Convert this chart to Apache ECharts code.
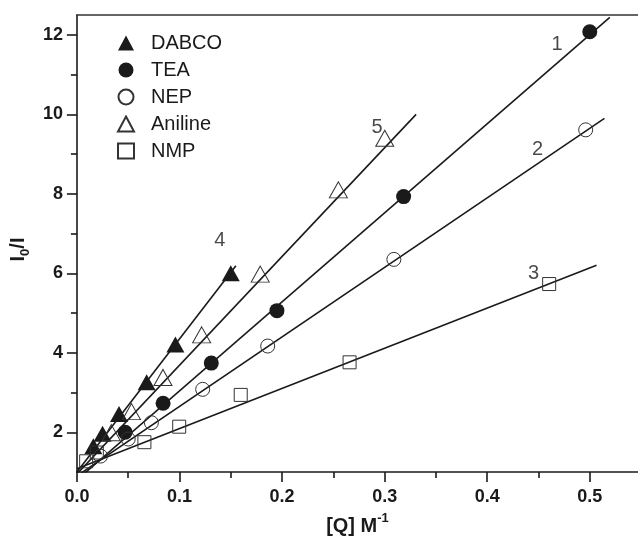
<!DOCTYPE html>
<html>
<head>
<meta charset="utf-8">
<script src="https://cdn.jsdelivr.net/npm/echarts@6/dist/echarts.min.js"></script>
<style>html,body{margin:0;padding:0;background:#fff}#c{width:638px;height:543px}</style>
</head>
<body>
<div id="c"></div>
<script>
// ---- data ----
const seriesNames = ['DABCO', 'TEA', 'NEP', 'Aniline', 'NMP'];
const dabcoX = [0.016, 0.025, 0.041, 0.068, 0.096, 0.150];
const dabcoY = [1.65, 1.96, 2.46, 3.26, 4.21, 6.00];
const teaX = [0.047, 0.084, 0.131, 0.195, 0.3185, 0.500];
const teaY = [2.00, 2.73, 3.74, 5.06, 7.93, 12.08];
const nepX = [0.023, 0.050, 0.0726, 0.1226, 0.186, 0.309, 0.496];
const nepY = [1.40, 1.83, 2.24, 3.08, 4.17, 6.35, 9.61];
const anilX = [0.0335, 0.0532, 0.0839, 0.1216, 0.1787, 0.2549, 0.3001];
const anilY = [1.99, 2.52, 3.38, 4.45, 5.98, 8.10, 9.40];
const nmpX = [0.009, 0.0194, 0.0658, 0.0997, 0.1597, 0.2658, 0.4604];
const nmpY = [1.27, 1.49, 1.75, 2.14, 2.94, 3.76, 5.73];
// fitted lines (start/end): 1 TEA, 2 NEP, 3 NMP, 4 DABCO, 5 Aniline
const fitStartX = [0, 0, 0, 0, 0];
const fitStartY = [0.80, 0.90, 1.08, 1.00, 0.95];
const fitEndX = [0.5195, 0.5143, 0.5066, 0.155, 0.3307];
const fitEndY = [12.44, 9.90, 6.20, 6.19, 10.00];
// line number labels
const numLabels = ['1', '2', '3', '4', '5'];
const numLabelX = [0.468, 0.449, 0.4453, 0.1394, 0.2927];
const numLabelY = [11.75, 9.12, 6.00, 6.83, 9.67];
// ticks
const xMajorTicks = [0, 0.1, 0.2, 0.3, 0.4, 0.5];
const xMinorTicks = [0.05, 0.15, 0.25, 0.35, 0.45];
const yMajorTicks = [2, 4, 6, 8, 10, 12];
const yMinorTicks = [3, 5, 7, 9, 11];
const xMin = 0, xMax = 0.547, yMin = 1, yMax = 12.5;

const FONT = '"Liberation Sans", Arial, sans-serif';
const INK = '#1a1a1a';

function pairs(xs, ys) { return xs.map((x, i) => [x, ys[i]]); }

const chart = echarts.init(document.getElementById('c'), null, {renderer: 'canvas'});

const markerDefs = [
  {name: 'DABCO', x: dabcoX, y: dabcoY, symbol: 'triangle', size: [18, 16], fill: INK, border: INK, bw: 0},
  {name: 'TEA', x: teaX, y: teaY, symbol: 'circle', size: 15, fill: INK, border: INK, bw: 0},
  {name: 'NEP', x: nepX, y: nepY, symbol: 'circle', size: 14, fill: 'rgba(0,0,0,0)', border: '#333', bw: 1},
  {name: 'Aniline', x: anilX, y: anilY, symbol: 'triangle', size: [18, 16], fill: 'rgba(0,0,0,0)', border: '#333', bw: 1},
  {name: 'NMP', x: nmpX, y: nmpY, symbol: 'rect', size: 13, fill: 'rgba(0,0,0,0)', border: '#333', bw: 1}
];

const series = [];
for (let i = 0; i < fitStartX.length; i++) {
  series.push({
    type: 'line', xAxisIndex: 0, yAxisIndex: 0, silent: true,
    data: [[fitStartX[i], fitStartY[i]], [fitEndX[i], fitEndY[i]]],
    showSymbol: false, symbol: 'none',
    lineStyle: {color: INK, width: 1.6}, z: 2, clip: true
  });
}
markerDefs.forEach(d => {
  series.push({
    name: d.name, type: 'scatter', xAxisIndex: 0, yAxisIndex: 0,
    data: pairs(d.x, d.y), symbol: d.symbol, symbolSize: d.size,
    itemStyle: {color: d.fill, borderColor: d.border, borderWidth: d.bw, opacity: 1},
    z: 3
  });
});
series.push({
  type: 'scatter', xAxisIndex: 0, yAxisIndex: 0, silent: true,
  data: numLabels.map((t, i) => ({value: [numLabelX[i], numLabelY[i]], name: t})),
  symbolSize: 0,
  label: {show: true, position: 'inside', formatter: p => p.name,
    fontFamily: FONT, fontSize: 20, color: INK},
  z: 4
});

const axisLineStyle = {color: INK, width: 1.6};

chart.setOption({
  animation: false,
  backgroundColor: '#fff',
  grid: {left: 73, top: 15, width: 565, height: 457, containLabel: false},
  legend: {
    data: seriesNames,
    orient: 'vertical', left: 112, top: 28,
    itemWidth: 16, itemHeight: 15, itemGap: 7, symbolKeepAspect: true,
    textStyle: {fontFamily: FONT, fontSize: 20, color: INK, lineHeight: 20, padding: [0, 0, 0, 12]},
    selectedMode: false
  },
  xAxis: [
    {
      type: 'value', position: 'bottom', min: xMin, max: xMax,
      axisLine: {show: true, onZero: false, lineStyle: axisLineStyle},
      axisTick: {show: true, inside: false, length: 10, lineStyle: {color: INK, width: 1.6}, customValues: xMajorTicks},
      axisLabel: {show: true, customValues: xMajorTicks, formatter: v => v.toFixed(1),
        fontFamily: FONT, fontSize: 18, fontWeight: 'bold', color: INK, margin: 16},
      splitLine: {show: false},
      name: '{a|[Q] M}{s|-1}', nameLocation: 'middle', nameGap: 40,
      nameTextStyle: {rich: {
        a: {fontFamily: FONT, fontSize: 20, fontWeight: 'bold', color: INK, lineHeight: 24, verticalAlign: 'bottom'},
        s: {fontFamily: FONT, fontSize: 13, fontWeight: 'bold', color: INK, lineHeight: 13, verticalAlign: 'top', padding: [0, 0, 10, 0]}
      }}
    },
    {
      type: 'value', position: 'bottom', min: xMin, max: xMax, gridIndex: 0,
      axisLine: {show: false},
      axisTick: {show: true, inside: false, length: 6, lineStyle: {color: INK, width: 1.6}, customValues: xMinorTicks},
      axisLabel: {show: false}, splitLine: {show: false}
    },
    {
      type: 'value', position: 'top', min: xMin, max: xMax, gridIndex: 0,
      axisLine: {show: true, onZero: false, lineStyle: {color: '#333', width: 1.6}},
      axisTick: {show: false}, axisLabel: {show: false}, splitLine: {show: false}
    }
  ],
  yAxis: [
    {
      type: 'value', position: 'left', min: yMin, max: yMax,
      axisLine: {show: true, onZero: false, lineStyle: axisLineStyle},
      axisTick: {show: true, inside: false, length: 10, lineStyle: {color: INK, width: 1.6}, customValues: yMajorTicks},
      axisLabel: {show: true, customValues: yMajorTicks, formatter: v => String(v),
        fontFamily: FONT, fontSize: 18, fontWeight: 'bold', color: INK, margin: 14},
      splitLine: {show: false},
      name: '{a|I}{s|0}{a|/I}', nameLocation: 'middle', nameGap: 40, nameRotate: 90,
      nameTextStyle: {padding: [0, 12, 0, 0], rich: {
        a: {fontFamily: FONT, fontSize: 20, fontWeight: 'bold', color: INK, lineHeight: 24, verticalAlign: 'bottom'},
        s: {fontFamily: FONT, fontSize: 13, fontWeight: 'bold', color: INK, lineHeight: 13, verticalAlign: 'bottom', padding: [0, 0, -4, 0]}
      }}
    },
    {
      type: 'value', position: 'left', min: yMin, max: yMax, gridIndex: 0,
      axisLine: {show: false},
      axisTick: {show: true, inside: false, length: 6, lineStyle: {color: INK, width: 1.6}, customValues: yMinorTicks},
      axisLabel: {show: false}, splitLine: {show: false}
    }
  ],
  series: series
});
</script>
</body>
</html>
